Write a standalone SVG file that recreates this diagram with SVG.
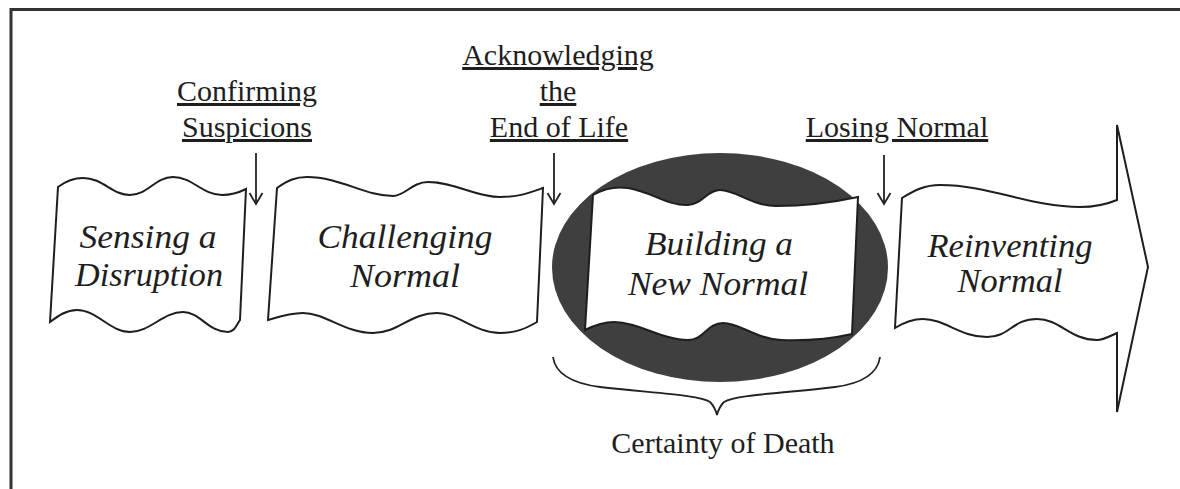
<svg xmlns="http://www.w3.org/2000/svg" width="1180" height="489" viewBox="0 0 1180 489">
<style>
.frame{fill:none;stroke:#333;stroke-width:3}
.banner{fill:#fff;stroke:#1e1e1e;stroke-width:2;stroke-linejoin:miter}
.lbl{font-family:"Liberation Serif","Times New Roman",serif;font-size:30px;fill:#1e1e1e;text-anchor:middle;text-decoration:underline}
.node{font-family:"Liberation Serif","Times New Roman",serif;font-size:33px;font-style:italic;fill:#1e1e1e;text-anchor:middle}
.cap{font-family:"Liberation Serif","Times New Roman",serif;font-size:30px;fill:#1e1e1e;text-anchor:middle}
.conn{fill:none;stroke:#222;stroke-width:1.8}
</style>
<defs>
<marker id="vhead" markerUnits="userSpaceOnUse" viewBox="-1 -8 14 16" markerWidth="14" markerHeight="16" refX="11" refY="0" orient="auto">
<path d="M0,-6.5 L11,0 L0,6.5" fill="none" stroke="#222" stroke-width="1.8"/>
</marker>
</defs>
<rect width="1180" height="489" fill="#fff"/>
<path class="frame" d="M11,489 L11,9.5 L1180,9.5"/>

<g id="connectors">
<path class="conn" d="M256,153 L256,204" marker-end="url(#vhead)"/>
<path class="conn" d="M554,153 L554,204" marker-end="url(#vhead)"/>
<path class="conn" d="M884,155 L884,204" marker-end="url(#vhead)"/>
<path class="conn" d="M553,357 C555,372 570,383 600,387 C650,393 700,395 710,402 C714,406 716,411 717,415 C718,411 720,406 724,402 C735,395 785,393 835,387 C865,383 878,372 880,357"/>
</g>

<g id="label-confirming">
<text class="lbl" x="247" y="101">Confirming</text>
<text class="lbl" x="247" y="137">Suspicions</text>
</g>
<g id="label-acknowledging">
<text class="lbl" x="558" y="65">Acknowledging</text>
<text class="lbl" x="558" y="101">the</text>
<text class="lbl" x="559" y="137">End of Life</text>
</g>
<g id="label-losing">
<text class="lbl" x="897" y="137">Losing Normal</text>
</g>

<g id="node-sensing">
<path class="banner" d="M58,187 C66,181 74,178 83,178 C103,178 112,195 130,195 C148,195 155,177 173,177 C193,177 202,195 222,195 C232,195 238,193 246,189 L240,320 C236,326 234,332 228,332 C208,332 200,312 183,312 C163,312 150,332 130,332 C110,332 97,310 77,310 C66,310 58,316 50,322 Z"/>
<text class="node" x="148" y="248" textLength="137" lengthAdjust="spacingAndGlyphs">Sensing a</text>
<text class="node" x="149" y="286" textLength="148" lengthAdjust="spacingAndGlyphs">Disruption</text>
</g>

<g id="node-challenging">
<path class="banner" d="M277,188 C288,180 296,177 307,177 C340,177 365,196 393,196 C405,196 412,182 428,182 C455,182 475,197 500,197 C520,197 532,192 543,188 L537,322 C525,329 515,333 500,333 C475,333 458,313 437,313 C410,313 398,333 373,333 C345,333 325,313 303,313 C290,313 278,317 268,320 Z"/>
<text class="node" x="405" y="248" textLength="175" lengthAdjust="spacingAndGlyphs">Challenging</text>
<text class="node" x="405" y="287" textLength="110" lengthAdjust="spacingAndGlyphs">Normal</text>
</g>

<g id="node-building">
<ellipse cx="720" cy="267.5" rx="168" ry="114.5" fill="#3f3f3f"/>
<path class="banner" d="M593,195 C605,188 615,186 628,188 C652,192 668,206 688,205 C703,204 707,190 720,190 C736,190 752,206 776,206 C806,206 835,202 858,197 L852,334 C830,339 806,341 781,340 C756,339 740,323 723,323 C707,323 704,340 688,340 C662,340 638,322 614,322 C602,322 593,326 585,330 Z"/>
<text class="node" x="719" y="255" textLength="148" lengthAdjust="spacingAndGlyphs">Building a</text>
<text class="node" x="718" y="295" textLength="180" lengthAdjust="spacingAndGlyphs">New Normal</text>
</g>

<g id="node-reinventing">
<path class="banner" d="M902,198 C915,190 925,185 940,185 C990,185 1030,207 1080,207 C1095,207 1105,205 1117,200 L1117,125 L1148,267 L1117,412 L1117,333 C1108,337 1103,340 1097,340 C1070,340 1060,319 1037,319 C1012,319 1010,337 987,337 C960,337 945,319 923,319 C912,319 903,323 895,328 Z"/>
<text class="node" x="1010" y="257" textLength="165" lengthAdjust="spacingAndGlyphs">Reinventing</text>
<text class="node" x="1010" y="292" textLength="105" lengthAdjust="spacingAndGlyphs">Normal</text>
</g>

<g id="caption-certainty">
<text class="cap" x="723" y="453">Certainty of Death</text>
</g>
</svg>
